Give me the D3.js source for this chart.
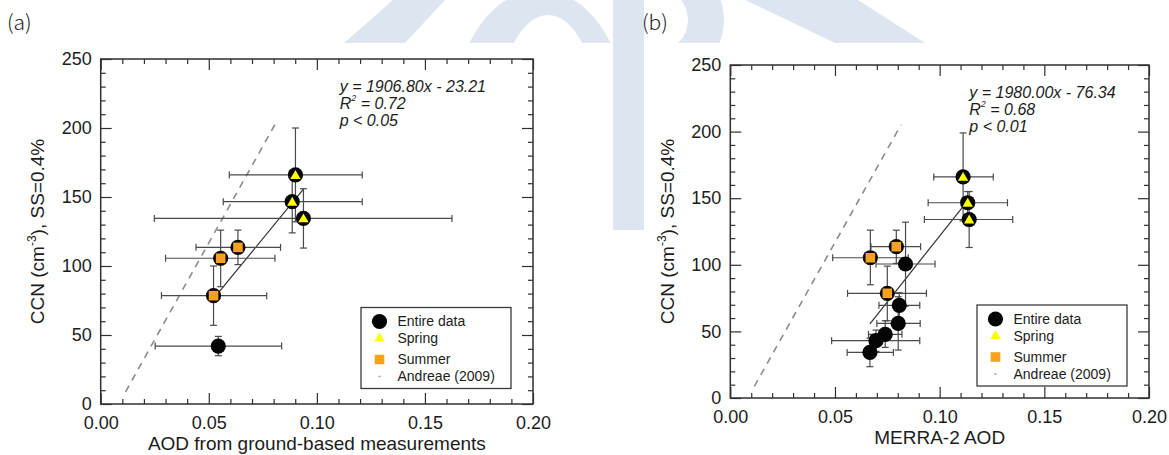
<!DOCTYPE html>
<html>
<head>
<meta charset="utf-8">
<script src="https://cdn.jsdelivr.net/npm/d3@7"></script>
<style>
  html, body { margin: 0; padding: 0; background: #fff; }
  svg { display: block; }
  text { font-family: "Liberation Sans", Arial, Helvetica, sans-serif; fill: #1c1c1c; }
</style>
</head>
<body>
<svg id="fig" width="1169" height="455"></svg>
<script>
// ---------------- data ----------------
const xTickValues = [0, 0.05, 0.10, 0.15, 0.20];
const yTickValues = [0, 50, 100, 150, 200, 250];
const legendLabels = ["Entire data", "Spring", "Summer", "Andreae (2009)"];
const panelLetters = ["(a)", "(b)"];
const xTitles = ["AOD from ground-based measurements", "MERRA-2 AOD"];

// Andreae (2009) reference relation (dashed)
const andreaeAod = [0.0115, 0.0815];
const andreaeCcn = [8.8, 205];

// (a) ground-based AOD
const gSpringAod    = [0.0901, 0.0886, 0.0938];
const gSpringCcn    = [166, 146.6, 134.5];
const gSpringAodErr = [[0.0595, 0.1210], [0.0567, 0.1210], [0.0248, 0.1625]];
const gSpringCcnErr = [[132, 200], [124, 169], [113, 156]];
const gSummerAod    = [0.0555, 0.0635, 0.0522];
const gSummerCcn    = [105.6, 113.5, 78.5];
const gSummerAodErr = [[0.0300, 0.0806], [0.0441, 0.0832], [0.0281, 0.0768]];
const gSummerCcnErr = [[85, 126], [101, 126], [57, 100]];
const gOtherAod     = [0.0544];
const gOtherCcn     = [42];
const gOtherAodErr  = [[0.0252, 0.0837]];
const gOtherCcnErr  = [[35, 49]];
const gFit          = [1906.80, -23.21];   // slope, intercept
const gFitText      = ["1906.80", "23.21", "0.72", "0.05"];

// (b) MERRA-2 AOD
const mSpringAod    = [0.1112, 0.1134, 0.1141];
const mSpringCcn    = [166, 146.6, 134];
const mSpringAodErr = [[0.0972, 0.1256], [0.0945, 0.1324], [0.0927, 0.1349]];
const mSpringCcnErr = [[133, 199], [138, 155], [113, 155]];
const mSummerAod    = [0.0669, 0.0793, 0.0750];
const mSummerCcn    = [105.3, 113.6, 78.6];
const mSummerAodErr = [[0.0489, 0.0850], [0.0672, 0.0909], [0.0560, 0.0937]];
const mSummerCcnErr = [[85, 126], [101, 126], [58, 99]];
const mOtherAod     = [0.0837, 0.0807, 0.0802, 0.0740, 0.0696, 0.0667];
const mOtherCcn     = [100.6, 69.6, 56, 47.8, 43, 34.2];
const mOtherAodErr  = [[0.0696, 0.0978], [0.0710, 0.0905], [0.0700, 0.0907], [0.0660, 0.0820], [0.0484, 0.0905], [0.0558, 0.0779]];
const mOtherCcnErr  = [[69, 132], [60, 79], [36, 76], [38, 58], [35, 51], [23.5, 45]];
const mFit          = [1980.00, -76.34];
const mFitText      = ["1980.00", "76.34", "0.68", "0.01"];

// ---------------- drawing ----------------
const svg = d3.select("#fig");
const ORANGE = "#f6a21e", YELLOW = "#ffff00", BAR = "#4a4a4a", FRAME = "#303030";

// faint background lettering
const wm = svg.append("g").attr("fill", "#dde6f0");
wm.append("path").attr("d", d3.line()([[344, 43], [405, 43], [445, 0], [393, 0]]) + "Z");
wm.append("clipPath").attr("id", "band").append("rect")
  .attr("x", 0).attr("y", 0).attr("width", 1169).attr("height", 43);
wm.append("path").attr("clip-path", "url(#band)").attr("fill-rule", "evenodd")
  .attr("d", "M455,110 a85,120 0 1,0 170,0 a85,120 0 1,0 -170,0 Z M500,110 a48,95 0 1,0 96,0 a48,95 0 1,0 -96,0 Z");
wm.append("rect").attr("x", 613).attr("y", 0).attr("width", 31).attr("height", 230);
wm.append("path").attr("clip-path", "url(#band)").attr("fill-rule", "evenodd")
  .attr("d", "M644,-40 h20 a60,60 0 0,1 0,120 h-20 Z M644,-10 h16 a28,30 0 0,1 0,60 h-16 Z");
wm.append("path").attr("d", d3.line()([[745, 0], [858, 0], [925, 43], [835, 43]]) + "Z");

function panel(cfg) {
  const g = svg.append("g");
  const x = d3.scaleLinear().domain([0, 0.2]).range([cfg.left, cfg.right]);
  const y = d3.scaleLinear().domain([0, 250]).range([cfg.bottom, cfg.top]);
  const W = cfg.right - cfg.left, H = cfg.bottom - cfg.top;

  // panel letter
  svg.append("text").attr("x", cfg.letterX).attr("y", 30)
    .style("font-family", '"Noto Sans CJK KR", "Noto Sans", sans-serif')
    .style("font-size", "21px").style("font-weight", 300).style("fill", "#222")
    .text(cfg.letter);

  // ticks on all four sides (inward)
  const minorX = d3.range(0, 0.2001, 0.01).filter(v => Math.abs(v / 0.05 - Math.round(v / 0.05)) > 1e-6);
  const minorY = d3.range(0, 250.1, 10).filter(v => v % 50 !== 0);
  const axStyle = sel => { sel.select(".domain").remove();
    sel.selectAll(".tick line").attr("stroke", FRAME).attr("stroke-width", 1.2); };

  g.append("g").attr("transform", `translate(0,${cfg.bottom})`)
    .call(d3.axisBottom(x).tickValues(xTickValues).tickFormat(d3.format(".2f")).tickSize(-11).tickPadding(12))
    .call(axStyle)
    .call(s => s.selectAll("text").style("font-size", "18px").style("font-family", '"Liberation Sans", Arial, sans-serif').attr("fill", "#1c1c1c"));
  g.append("g").attr("transform", `translate(0,${cfg.bottom})`)
    .call(d3.axisBottom(x).tickValues(minorX).tickFormat("").tickSize(-5)).call(axStyle);
  g.append("g").attr("transform", `translate(0,${cfg.top})`)
    .call(d3.axisTop(x).tickValues(xTickValues).tickFormat("").tickSize(-11)).call(axStyle);
  g.append("g").attr("transform", `translate(0,${cfg.top})`)
    .call(d3.axisTop(x).tickValues(minorX).tickFormat("").tickSize(-5)).call(axStyle);

  g.append("g").attr("transform", `translate(${cfg.left},0)`)
    .call(d3.axisLeft(y).tickValues(yTickValues).tickFormat(d3.format("d")).tickSize(-11).tickPadding(9))
    .call(axStyle)
    .call(s => s.selectAll("text").style("font-size", "18px").style("font-family", '"Liberation Sans", Arial, sans-serif').attr("fill", "#1c1c1c"));
  g.append("g").attr("transform", `translate(${cfg.left},0)`)
    .call(d3.axisLeft(y).tickValues(minorY).tickFormat("").tickSize(-5)).call(axStyle);
  g.append("g").attr("transform", `translate(${cfg.right},0)`)
    .call(d3.axisRight(y).tickValues(yTickValues).tickFormat("").tickSize(-11)).call(axStyle);
  g.append("g").attr("transform", `translate(${cfg.right},0)`)
    .call(d3.axisRight(y).tickValues(minorY).tickFormat("").tickSize(-5)).call(axStyle);

  // frame
  g.append("rect").attr("x", cfg.left).attr("y", cfg.top).attr("width", W).attr("height", H)
    .attr("fill", "none").attr("stroke", FRAME).attr("stroke-width", 1.5);

  // axis titles
  g.append("text").attr("x", (cfg.left + cfg.right) / 2).attr("y", cfg.bottom + 46)
    .attr("text-anchor", "middle").style("font-size", "19px").text(cfg.xTitle);
  const yt = g.append("text").attr("transform", `translate(${cfg.yTitleX},${(cfg.top + cfg.bottom) / 2}) rotate(-90)`)
    .attr("text-anchor", "middle").style("font-size", "19px");
  yt.append("tspan").text("CCN (cm");
  yt.append("tspan").attr("dy", -8).style("font-size", "12px").text("-3");
  yt.append("tspan").attr("dy", 8).text("), SS=0.4%");

  // Andreae dashed relation
  g.append("path").datum(andreaeAod.map((a, i) => [a, andreaeCcn[i]]))
    .attr("d", d3.line().x(d => x(d[0])).y(d => y(d[1])))
    .attr("fill", "none").attr("stroke", "#8c8c8c").attr("stroke-width", 1.6).attr("stroke-dasharray", "7,6");

  // regression line over the data range
  const allAod = [...cfg.other.aod, ...cfg.spring.aod, ...cfg.summer.aod];
  const [x0, x1] = d3.extent(allAod);
  g.append("line")
    .attr("x1", x(x0)).attr("y1", y(cfg.fit[0] * x0 + cfg.fit[1]))
    .attr("x2", x(x1)).attr("y2", y(cfg.fit[0] * x1 + cfg.fit[1]))
    .attr("stroke", "#333").attr("stroke-width", 1.2);

  // error bars
  const groups = [cfg.other, cfg.summer, cfg.spring];
  const eb = g.append("g").attr("stroke", BAR).attr("stroke-width", 1.2).attr("fill", "none");
  groups.forEach(s => s.aod.forEach((a, i) => {
    const c = s.ccn[i], [xl, xh] = s.aodErr[i], [yl, yh] = s.ccnErr[i];
    eb.append("line").attr("x1", x(xl)).attr("x2", x(xh)).attr("y1", y(c)).attr("y2", y(c));
    eb.append("line").attr("x1", x(xl)).attr("x2", x(xl)).attr("y1", y(c) - 3.5).attr("y2", y(c) + 3.5);
    eb.append("line").attr("x1", x(xh)).attr("x2", x(xh)).attr("y1", y(c) - 3.5).attr("y2", y(c) + 3.5);
    eb.append("line").attr("x1", x(a)).attr("x2", x(a)).attr("y1", y(yl)).attr("y2", y(yh));
    eb.append("line").attr("x1", x(a) - 3.5).attr("x2", x(a) + 3.5).attr("y1", y(yl)).attr("y2", y(yl));
    eb.append("line").attr("x1", x(a) - 3.5).attr("x2", x(a) + 3.5).attr("y1", y(yh)).attr("y2", y(yh));
  }));

  // every point belongs to the entire data set (black circle)
  groups.forEach(s => s.aod.forEach((a, i) => {
    g.append("circle").attr("cx", x(a)).attr("cy", y(s.ccn[i])).attr("r", 7.6).attr("fill", "#050505");
  }));
  const tri = d3.symbol().type(d3.symbolTriangle).size(46);
  const sq = d3.symbol().type(d3.symbolSquare).size(92);
  cfg.spring.aod.forEach((a, i) => g.append("path").attr("d", tri)
    .attr("transform", `translate(${x(a)},${y(cfg.spring.ccn[i]) + 1})`).attr("fill", YELLOW));
  cfg.summer.aod.forEach((a, i) => g.append("path").attr("d", sq)
    .attr("transform", `translate(${x(a)},${y(cfg.summer.ccn[i])})`).attr("fill", ORANGE));

  // regression statistics
  const tx = cfg.left + 239, ty = cfg.top + 33, lh = 17;
  const eq = g.append("g").style("font-size", "16px").style("font-style", "italic");
  eq.append("text").attr("x", tx).attr("y", ty).text(`y = ${cfg.fitText[0]}x - ${cfg.fitText[1]}`);
  const r2 = eq.append("text").attr("x", tx).attr("y", ty + lh);
  r2.append("tspan").text("R");
  r2.append("tspan").attr("dy", -8).style("font-size", "9px").text("2");
  r2.append("tspan").attr("dy", 8).text(` = ${cfg.fitText[2]}`);
  eq.append("text").attr("x", tx).attr("y", ty + 2 * lh).text(`p < ${cfg.fitText[3]}`);

  // legend
  const lx = cfg.right - 22 - 150, ly = cfg.legendTop;
  const lg = g.append("g");
  lg.append("rect").attr("x", lx).attr("y", ly).attr("width", 150).attr("height", 81)
    .attr("fill", "#fff").attr("stroke", "#3a3a3a").attr("stroke-width", 1.3);
  const rows = [14, 31, 52, 69];
  lg.append("circle").attr("cx", lx + 18.5).attr("cy", ly + rows[0]).attr("r", 7.6).attr("fill", "#050505");
  lg.append("path").attr("d", tri).attr("transform", `translate(${lx + 18.5},${ly + rows[1]})`).attr("fill", YELLOW);
  lg.append("path").attr("d", sq).attr("transform", `translate(${lx + 18.5},${ly + rows[2]})`).attr("fill", ORANGE);
  lg.append("line").attr("x1", lx + 17.5).attr("x2", lx + 19.5).attr("y1", ly + rows[3]).attr("y2", ly + rows[3])
    .attr("stroke", "#999").attr("stroke-width", 1.5);
  legendLabels.forEach((t, i) => lg.append("text").attr("x", lx + 36.5).attr("y", ly + rows[i])
    .attr("dy", "0.35em").style("font-size", "14px").text(t));
}

panel({
  letter: panelLetters[0], letterX: 7, xTitle: xTitles[0], yTitleX: 44,
  left: 100.7, right: 533, top: 59, bottom: 404, legendTop: 307.5,
  spring: { aod: gSpringAod, ccn: gSpringCcn, aodErr: gSpringAodErr, ccnErr: gSpringCcnErr },
  summer: { aod: gSummerAod, ccn: gSummerCcn, aodErr: gSummerAodErr, ccnErr: gSummerCcnErr },
  other:  { aod: gOtherAod,  ccn: gOtherCcn,  aodErr: gOtherAodErr,  ccnErr: gOtherCcnErr },
  fit: gFit, fitText: gFitText
});
panel({
  letter: panelLetters[1], letterX: 642, xTitle: xTitles[1], yTitleX: 674,
  left: 730.3, right: 1149, top: 65, bottom: 398, legendTop: 305,
  spring: { aod: mSpringAod, ccn: mSpringCcn, aodErr: mSpringAodErr, ccnErr: mSpringCcnErr },
  summer: { aod: mSummerAod, ccn: mSummerCcn, aodErr: mSummerAodErr, ccnErr: mSummerCcnErr },
  other:  { aod: mOtherAod,  ccn: mOtherCcn,  aodErr: mOtherAodErr,  ccnErr: mOtherCcnErr },
  fit: mFit, fitText: mFitText
});
</script>
</body>
</html>
